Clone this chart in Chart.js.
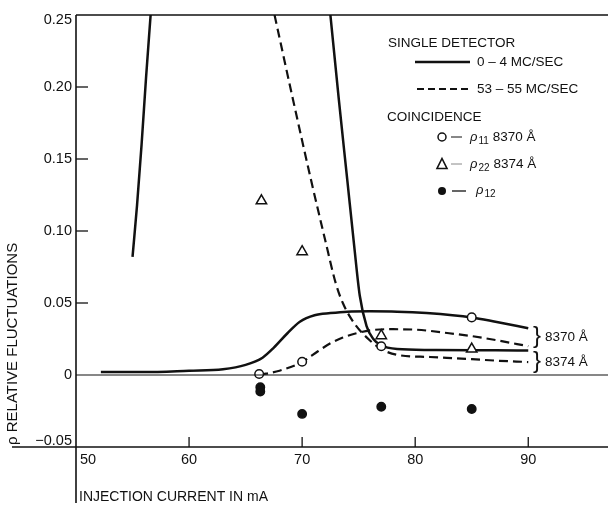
<!DOCTYPE html>
<html>
<head>
<meta charset="utf-8">
<script src="https://cdn.jsdelivr.net/npm/chart.js@4.4.1/dist/chart.umd.min.js"></script>
<style>
  html, body { margin: 0; padding: 0; background: #fff; }
  #wrap { width: 608px; height: 509px; }
</style>
</head>
<body>
<div id="wrap"><canvas id="fluctChart" width="608" height="509"></canvas></div>
<script>
// Axis ticks
const xTicks = [50, 60, 70, 80, 90];
const yTicks = [0.25, 0.20, 0.15, 0.10, 0.05, 0, -0.05];
const yTickLabels = ['0.25', '0.20', '0.15', '0.10', '0.05', '0', '\u22120.05'];

// Single detector curves
const solidLeftX = [55.0, 55.4, 55.8, 56.2, 56.6];
const solidLeftY = [0.082, 0.118, 0.160, 0.207, 0.25];

const solid8370X = [52.2, 56, 60, 63, 65, 66.5, 67.5, 68.7, 69.8, 71.1, 72.5, 74, 76, 78.4, 81, 85, 87.1, 90];
const solid8370Y = [0.002, 0.002, 0.003, 0.004, 0.007, 0.012, 0.019, 0.029, 0.037, 0.0415, 0.043, 0.044, 0.0442, 0.044, 0.043, 0.040, 0.037, 0.0325];

const dashed8370X = [66.2, 68, 70, 71.4, 72.5, 73.6, 74.8, 76, 77.5, 80, 83, 85, 87.1, 90];
const dashed8370Y = [0.0, 0.003, 0.009, 0.0165, 0.022, 0.026, 0.029, 0.031, 0.0318, 0.0315, 0.029, 0.027, 0.0243, 0.020];

const solid8374X = [72.5, 73.25, 74.0, 74.6, 75.1, 75.7, 76.3, 76.9, 78.4, 81.3, 85, 87.1, 90];
const solid8374Y = [0.25, 0.191, 0.135, 0.09, 0.055, 0.034, 0.025, 0.021, 0.018, 0.0174, 0.0172, 0.0172, 0.017];

const dashed8374X = [67.56, 69.2, 70.8, 72.0, 73.0, 73.6, 74.6, 76.0, 77.0, 78.4, 81.3, 85, 87.1, 90];
const dashed8374Y = [0.25, 0.191, 0.135, 0.095, 0.063, 0.050, 0.036, 0.024, 0.018, 0.014, 0.0125, 0.011, 0.010, 0.009];

// Coincidence points
const rho11X = [66.2, 70, 77, 85];
const rho11Y = [0.0007, 0.0092, 0.020, 0.040];
const rho22X = [66.4, 70, 77, 85];
const rho22Y = [0.121, 0.0856, 0.0273, 0.018];
const rho12X = [66.3, 66.3, 70, 77, 85];
const rho12Y = [-0.0085, -0.0115, -0.027, -0.022, -0.0236];

const toPoints = (xs, ys) => xs.map((v, i) => ({ x: v, y: ys[i] }));

const INK = '#111';
const FONT = '"Liberation Sans", Arial, Helvetica, sans-serif';

function curve(xs, ys, dashed, tension) {
    return {
        type: 'line',
        data: toPoints(xs, ys),
        borderColor: INK,
        borderWidth: dashed ? 2.2 : 2.5,
        borderDash: dashed ? [9, 5] : [],
        pointRadius: 0,
        fill: false,
        tension: tension,
        cubicInterpolationMode: 'monotone',
        order: 2
    };
}

function marks(xs, ys, style, radius, fillColor) {
    return {
        type: 'scatter',
        data: toPoints(xs, ys),
        pointStyle: style,
        pointRadius: radius,
        pointBorderWidth: 1.5,
        pointBorderColor: INK,
        pointBackgroundColor: fillColor,
        showLine: false,
        order: 0
    };
}

// Draws axes, ticks, titles, legend and bracket labels in the paper style
const paperAxes = {
    id: 'paperAxes',
    afterDraw(chart) {
        const { ctx, scales: { x, y } } = chart;
        const W = chart.width;
        ctx.save();
        ctx.strokeStyle = INK;
        ctx.fillStyle = INK;

        const line = (x1, y1, x2, y2, w) => {
            ctx.lineWidth = w;
            ctx.setLineDash([]);
            ctx.beginPath();
            ctx.moveTo(x1, y1);
            ctx.lineTo(x2, y2);
            ctx.stroke();
        };

        const yTop = y.getPixelForValue(0.25);
        const yZero = y.getPixelForValue(0);
        const yBot = y.getPixelForValue(-0.05);
        const xLeft = x.getPixelForValue(50);

        line(xLeft, yTop, W, yTop, 1.5);
        line(xLeft, yZero, W, yZero, 1.2);
        line(12, yBot, W, yBot, 1.6);
        line(xLeft, yTop, xLeft, 503, 1.6);

        // y ticks (inside)
        yTicks.forEach(v => {
            if (v === 0.25 || v === 0 || v === -0.05) return;
            const py = y.getPixelForValue(v);
            line(xLeft, py, xLeft + 12, py, 1.3);
        });
        // x ticks (inside)
        xTicks.forEach(v => {
            if (v === 50) return;
            const px = x.getPixelForValue(v);
            line(px, yBot, px, yBot - 10, 1.3);
        });

        // tick labels
        ctx.font = '14.5px ' + FONT;
        ctx.textAlign = 'right';
        ctx.textBaseline = 'middle';
        yTicks.forEach((v, i) => {
            let py = y.getPixelForValue(v);
            if (v === 0.25) py += 5;
            if (v === -0.05) py -= 6;
            ctx.fillText(yTickLabels[i], xLeft - 4, py);
        });
        ctx.textAlign = 'center';
        xTicks.forEach(v => {
            let px = x.getPixelForValue(v);
            if (v === 50) px += 12;
            ctx.fillText(String(v), px, yBot + 13);
        });

        // axis titles
        ctx.font = '14px ' + FONT;
        ctx.textAlign = 'left';
        ctx.fillText('INJECTION CURRENT IN mA', xLeft + 3, 497);
        ctx.save();
        ctx.translate(13, 445);
        ctx.rotate(-Math.PI / 2);
        ctx.font = '15px ' + FONT;
        ctx.fillText('\u03C1 RELATIVE FLUCTUATIONS', 0, 0);
        ctx.restore();

        // legend
        ctx.font = '13.5px ' + FONT;
        ctx.textAlign = 'left';
        ctx.fillText('SINGLE DETECTOR', 388, 43);
        line(415, 62, 470, 62, 2.5);
        ctx.fillText('0 \u2013 4 MC/SEC', 477, 62);
        ctx.lineWidth = 2.2;
        ctx.setLineDash([7, 4]);
        ctx.beginPath();
        ctx.moveTo(417, 89);
        ctx.lineTo(470, 89);
        ctx.stroke();
        ctx.setLineDash([]);
        ctx.fillText('53 \u2013 55 MC/SEC', 477, 89);
        ctx.fillText('COINCIDENCE', 387, 117);

        const rhoLabel = (px, py, sub, rest) => {
            ctx.font = 'italic 13px ' + FONT;
            ctx.fillText('\u03C1', px, py);
            let w = ctx.measureText('\u03C1').width;
            ctx.font = '10px ' + FONT;
            ctx.fillText(sub, px + w + 1, py + 4);
            w += ctx.measureText(sub).width + 1;
            if (rest) {
                ctx.font = '13.5px ' + FONT;
                ctx.fillText(rest, px + w + 4, py);
            }
        };

        // open circle
        ctx.lineWidth = 1.5;
        ctx.fillStyle = '#fff';
        ctx.beginPath();
        ctx.arc(442, 137, 4, 0, Math.PI * 2);
        ctx.fill();
        ctx.stroke();
        ctx.fillStyle = INK;
        line(451, 137, 462, 137, 1);
        rhoLabel(470, 137, '11', '8370 \u00C5');

        // open triangle
        ctx.lineWidth = 1.6;
        ctx.beginPath();
        ctx.moveTo(442, 158.5);
        ctx.lineTo(447, 168.5);
        ctx.lineTo(437, 168.5);
        ctx.closePath();
        ctx.stroke();
        ctx.strokeStyle = '#888';
        line(451, 164, 462, 164, 1);
        ctx.strokeStyle = INK;
        rhoLabel(470, 164, '22', '8374 \u00C5');

        // filled dot
        ctx.beginPath();
        ctx.arc(442, 191, 4, 0, Math.PI * 2);
        ctx.fill();
        line(452, 191, 466, 191, 1.3);
        rhoLabel(476, 190, '12', '');

        // bracket labels
        ctx.textBaseline = 'middle';
        const yA = y.getPixelForValue(0.027);
        const yB = y.getPixelForValue(0.0095);
        ctx.font = '24px ' + FONT;
        ctx.fillText('}', 533, yA);
        ctx.fillText('}', 533, yB);
        ctx.font = '13.5px ' + FONT;
        ctx.fillText('8370 \u00C5', 545, yA + 1);
        ctx.fillText('8374 \u00C5', 545, yB + 1);

        ctx.restore();
    }
};

const ctx = document.getElementById('fluctChart').getContext('2d');

const config = {
    type: 'scatter',
    data: {
        datasets: [
            marks(rho11X, rho11Y, 'circle', 4.3, '#fff'),
            marks(rho22X, rho22Y, 'triangle', 6, '#fff'),
            marks(rho12X, rho12Y, 'circle', 4.2, INK),
            curve(solidLeftX, solidLeftY, false, 0.4),
            curve(solid8370X, solid8370Y, false, 0.4),
            curve(dashed8370X, dashed8370Y, true, 0.4),
            curve(solid8374X, solid8374Y, false, 0.4),
            curve(dashed8374X, dashed8374Y, true, 0.4)
        ]
    },
    options: {
        responsive: false,
        maintainAspectRatio: false,
        animation: false,
        layout: { padding: { left: 76, top: 15, right: 2, bottom: 62 } },
        scales: {
            x: { type: 'linear', min: 50, max: 96.39, display: false },
            y: { type: 'linear', min: -0.05, max: 0.25, display: false }
        },
        plugins: {
            legend: { display: false },
            tooltip: { enabled: false }
        }
    },
    plugins: [paperAxes]
};

const fluctChart = new Chart(ctx, config);
</script>
</body>
</html>
